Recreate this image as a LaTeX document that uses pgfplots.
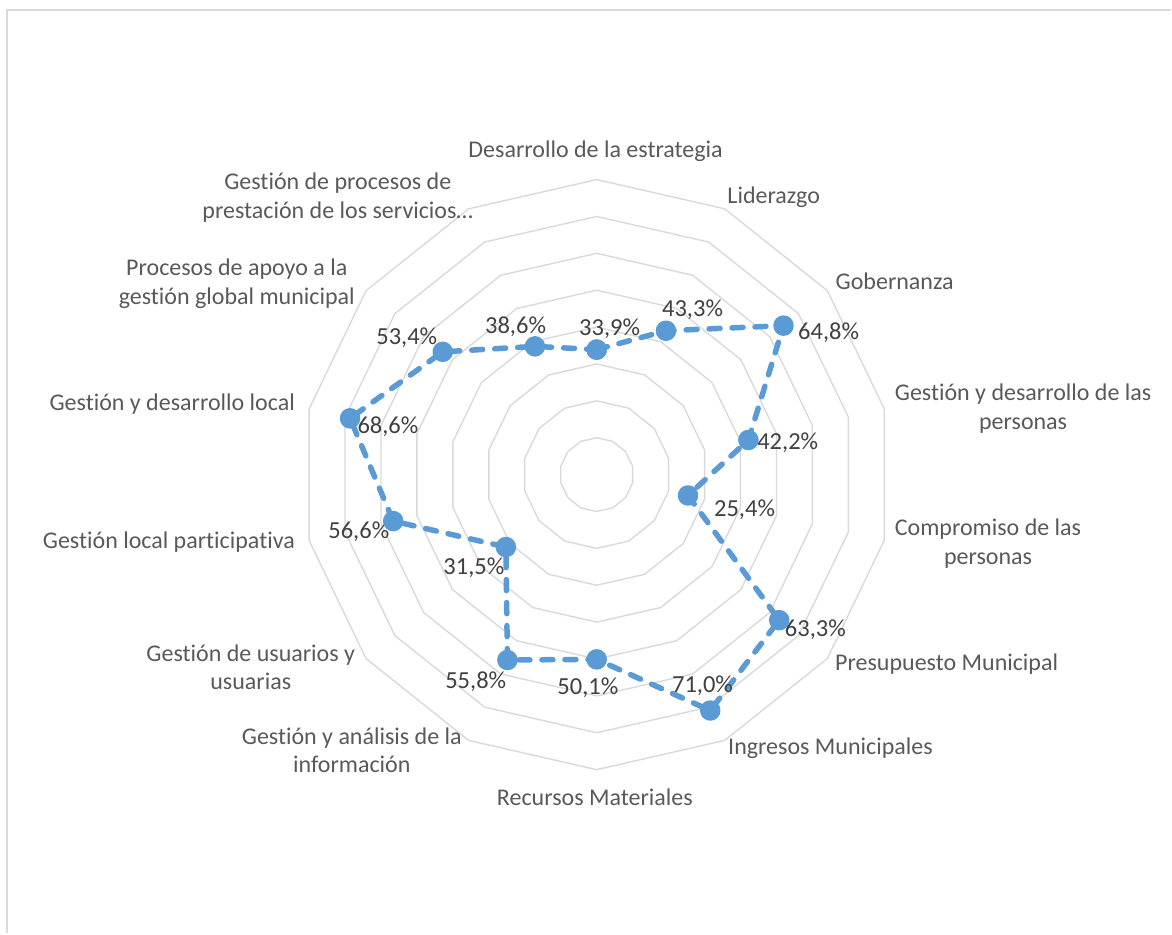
\documentclass[border=0pt]{standalone}
\usepackage{fontspec}
\setmainfont{Carlito}[Ligatures={NoCommon}]
\usepackage{pgfplots}
\pgfplotsset{compat=1.18}
\usepgfplotslibrary{polar}

\definecolor{gridc}{HTML}{D9D9D9}
\definecolor{serie}{HTML}{5B9BD5}
\definecolor{cattxt}{HTML}{595959}
\definecolor{valtxt}{HTML}{404040}

\tikzset{
  cat/.style={font=\fontsize{24}{28.5}\selectfont, text=cattxt, align=center, inner sep=0pt},
  val/.style={font=\fontsize{24.5}{28.5}\selectfont, text=valtxt, inner sep=0pt},
}

% one polygon ring of the radar grid (radius in %)
\newcommand{\ring}[1]{%
  \addplot[gridc, line width=1.4pt, data cs=polar, forget plot] coordinates {
    (90,#1) (64.2857,#1) (38.5714,#1) (12.8571,#1) (-12.8571,#1) (-38.5714,#1)
    (-64.2857,#1) (-90,#1) (-115.7143,#1) (-141.4286,#1) (-167.1429,#1)
    (167.1429,#1) (141.4286,#1) (115.7143,#1) (90,#1)};}

\begin{document}
\begin{tikzpicture}
\begin{axis}[
    x=3.69pt, y=3.69pt,
    xmin=-161.8, xmax=155.8,
    ymin=-124.4, ymax=128.7,
    enlargelimits=false,
    hide axis, clip=false,
]
\path (axis cs:-161.8,-124.4) rectangle (axis cs:155.8,128.7);
\draw[gridc, line width=1.5pt] (axis cs:-159.9,-124.4) -- (axis cs:-159.9,126.0) -- (axis cs:155.8,126.0);

\ring{10}\ring{20}\ring{30}\ring{40}\ring{50}\ring{60}\ring{70}\ring{80}

% values (angle, %)
\addplot[serie, line width=5.5pt, dash pattern=on 11pt off 12pt, line cap=round, line join=round,
    data cs=polar, mark=*, mark size=7.5pt, mark options={solid, fill=serie, draw=none}]
  coordinates {
    (90,33.9) (64.2857,43.3) (38.5714,64.8) (12.8571,42.2) (-12.8571,25.4)
    (-38.5714,63.3) (-64.2857,71.0) (-90,50.1) (-115.7143,55.8) (-141.4286,31.5)
    (-167.1429,56.6) (167.1429,68.6) (141.4286,53.4) (115.7143,38.6) (90,33.9)};

% data labels
\node[val] at (axis cs:3.5,39.6) {33,9\%};
\node[val] at (axis cs:26.0,44.7) {43,3\%};
\node[val] at (axis cs:62.9,38.5) {64,8\%};
\node[val] at (axis cs:51.8,8.7) {42,2\%};
\node[val] at (axis cs:40.1,-9.5) {25,4\%};
\node[val] at (axis cs:59.3,-42.0) {63,3\%};
\node[val] at (axis cs:28.7,-57.2) {71,0\%};
\node[val] at (axis cs:-2.4,-57.7) {50,1\%};
\node[val] at (axis cs:-32.8,-56.1) {55,8\%};
\node[val] at (axis cs:-33.3,-25.2) {31,5\%};
\node[val] at (axis cs:-64.5,-15.4) {56,6\%};
\node[val] at (axis cs:-56.6,13.0) {68,6\%};
\node[val] at (axis cs:-51.5,37.1) {53,4\%};
\node[val] at (axis cs:-22.0,40.1) {38,6\%};

% category labels
\node[cat] at (axis cs:-0.3,87.8) {Desarrollo de la estrategia};
\node[cat] at (axis cs:48.0,75.1) {Liderazgo};
\node[cat] at (axis cs:80.8,52.3) {Gobernanza};
\node[cat, anchor=west] at (axis cs:80.8,17.9) {Gestión y desarrollo de las\\personas};
\node[cat, anchor=west] at (axis cs:80.8,-18.7) {Compromiso de las\\personas};
\node[cat] at (axis cs:94.9,-51.5) {Presupuesto Municipal};
\node[cat] at (axis cs:63.4,-74.3) {Ingresos Municipales};
\node[cat] at (axis cs:-0.5,-87.5) {Recursos Materiales};
\node[cat] at (axis cs:-66.4,-74.8) {Gestión y análisis de la\\información};
\node[cat] at (axis cs:-93.8,-52.3) {Gestión de usuarios y\\usuarias};
\node[cat, anchor=east] at (axis cs:-81.8,-18.4) {Gestión local participativa};
\node[cat, anchor=east] at (axis cs:-81.8,19.0) {Gestión y desarrollo local};
\node[cat] at (axis cs:-97.6,51.8) {Procesos de apoyo a la\\gestión global municipal};
\node[cat] at (axis cs:-70.2,75.1) {Gestión de procesos de\\prestación de los servicios…};
\end{axis}
\end{tikzpicture}
\end{document}
